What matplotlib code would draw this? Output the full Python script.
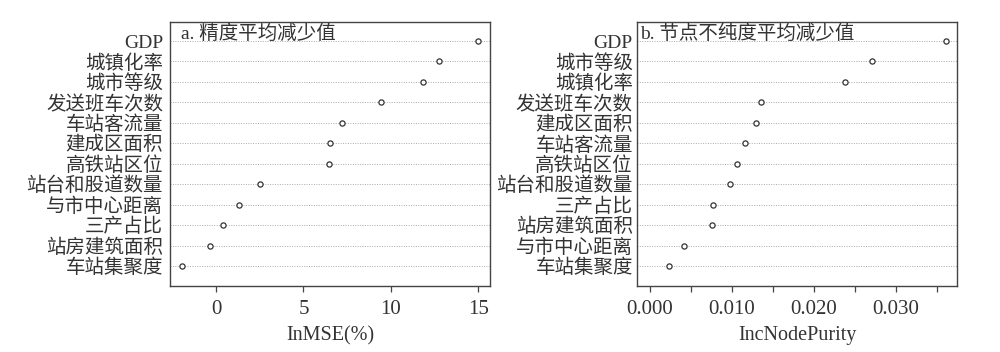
import matplotlib
matplotlib.use("Agg")
import matplotlib.pyplot as plt

plt.rcParams['font.family'] = ['Liberation Serif', 'Noto Sans CJK SC']

labels_a = ["GDP", "城镇化率", "城市等级", "发送班车次数", "车站客流量", "建成区面积", "高铁站区位",
            "站台和股道数量", "与市中心距离", "三产占比", "站房建筑面积", "车站集聚度"]
values_a = [14.99, 12.76, 11.81, 9.41, 7.18, 6.51, 6.48, 2.53, 1.30, 0.42, -0.36, -1.96]

labels_b = ["GDP", "城市等级", "城镇化率", "发送班车次数", "建成区面积", "车站客流量", "高铁站区位",
            "站台和股道数量", "三产占比", "站房建筑面积", "与市中心距离", "车站集聚度"]
values_b = [0.0361, 0.0271, 0.0238, 0.01361, 0.01296, 0.01158, 0.01065, 0.00983, 0.00772, 0.00756, 0.00422, 0.00232]

title_a = "a. 精度平均减少值"
title_b = "b. 节点不纯度平均减少值"
xlabel_a = "InMSE(%)"
xlabel_b = "IncNodePurity"

fig = plt.figure(figsize=(10, 3.52), dpi=100)
ax1 = fig.add_axes([0.170, 0.1875, 0.320, 0.75])
ax2 = fig.add_axes([0.637, 0.1875, 0.3203, 0.75])

txtc = '#333333'
edgec = '#444444'

def draw(ax, labels, values, title, xlabel, xlim, major, minor, fmt, ypad):
    n = len(labels)
    ys = list(range(n, 0, -1))
    for y in ys:
        ax.axhline(y, color='#aaaaaa', linestyle=(0, (1, 1.5)), linewidth=0.7, zorder=1)
    ax.scatter(values, ys, s=14, facecolors='white', edgecolors='#333333', linewidths=0.9, zorder=3)
    ax.set_yticks(ys)
    ax.set_yticklabels(labels, fontsize=14, color=txtc)
    ax.tick_params(axis='y', length=0, pad=ypad)
    ax.set_ylim(0.02, n + 0.93)
    ax.set_xlim(*xlim)
    ax.set_xticks(major)
    ax.set_xticklabels([fmt.format(v) for v in major], fontsize=15, color=txtc)
    if minor:
        ax.set_xticks(minor, minor=True)
    ax.tick_params(axis='x', which='both', length=4, width=0.9, color=edgec, direction='out', pad=6)
    ax.set_xlabel(xlabel, fontsize=14.5, color=txtc, labelpad=5)
    for s in ax.spines.values():
        s.set_color(edgec)
        s.set_linewidth(1.0)
    ax.text(0.035, 0.99, title, transform=ax.transAxes, fontsize=14, color=txtc,
            ha='left', va='top')

draw(ax1, labels_a, values_a, title_a, xlabel_a, (-2.63, 15.66), [0, 5, 10, 15], None, "{:g}", 5)
draw(ax2, labels_b, values_b, title_b, xlabel_b, (-0.00155, 0.0375),
     [0.0, 0.01, 0.02, 0.03], [0.005, 0.015, 0.025, 0.035], "{:.3f}", 3)
ax2.texts[0].set_x(0.01)

fig.savefig("out.png", dpi=100, facecolor='white')
